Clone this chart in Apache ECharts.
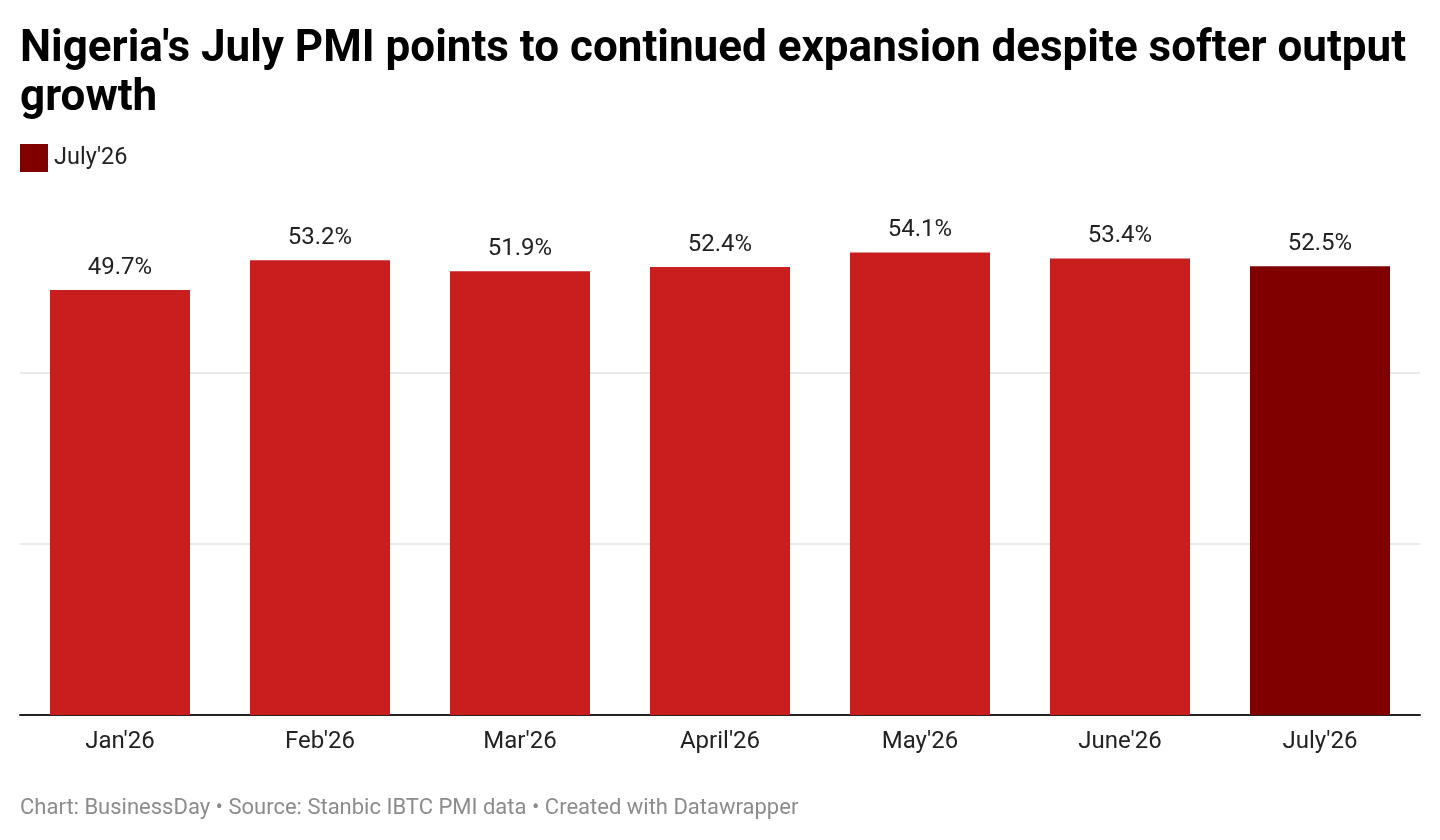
<!DOCTYPE html>
<html>
<head>
<meta charset="utf-8">
<script src="https://cdn.jsdelivr.net/npm/echarts@6/dist/echarts.min.js"></script>
<style>
html,body{margin:0;padding:0;background:#fff;}
#c{width:1440px;height:840px;}
</style>
</head>
<body>
<div id="c"></div>
<script>
const categories = ["Jan'26", "Feb'26", "Mar'26", "April'26", "May'26", "June'26", "July'26"];
const pmiValues = [49.7, 53.2, 51.9, 52.4, 54.1, 53.4, 52.5];
const seriesName = "July'26";
const titleText = "Nigeria's July PMI points to continued expansion despite softer output\ngrowth";
const footerText = "Chart: BusinessDay • Source: Stanbic IBTC PMI data • Created with Datawrapper";

const baseColor = '#c81e1e';
const highlightColor = '#800000';
const font = 'Roboto, "Noto Sans", sans-serif';

const chart = echarts.init(document.getElementById('c'), null, {renderer: 'canvas'});
chart.setOption({
  animation: false,
  backgroundColor: '#fff',
  textStyle: {fontFamily: font},
  title: {
    text: titleText,
    left: 20, top: 25, padding: 0,
    textStyle: {fontFamily: font, fontSize: 44, fontWeight: 'bold', color: '#000', lineHeight: 49}
  },
  legend: {
    left: 20, top: 144, padding: 0,
    itemWidth: 28, itemHeight: 28, itemGap: 10,
    icon: 'rect',
    textStyle: {fontFamily: font, fontSize: 23.5, color: '#222', padding: [3, 0, 0, 1]},
    data: [seriesName]
  },
  grid: {left: 20, right: 20, top: 202, bottom: 125, containLabel: false},
  xAxis: {
    type: 'category',
    data: categories,
    axisLine: {lineStyle: {color: '#222', width: 2}},
    axisTick: {show: false},
    axisLabel: {fontFamily: font, fontSize: 24, color: '#222', margin: 15}
  },
  yAxis: {
    type: 'value',
    min: 0, max: 60, interval: 20,
    axisLabel: {show: false},
    axisLine: {show: false},
    axisTick: {show: false},
    splitLine: {showMaxLine: false, lineStyle: {color: '#e3e3e3', width: 1.5}}
  },
  series: [{
    name: seriesName,
    type: 'bar',
    barCategoryGap: '30%',
    itemStyle: {color: highlightColor},
    data: pmiValues.map((v, i) => i === pmiValues.length - 1 ? v : {value: v, itemStyle: {color: baseColor}}),
    label: {
      show: true, position: 'top', distance: 10,
      fontFamily: font, fontSize: 24, color: '#222',
      formatter: p => p.value.toFixed(1) + '%'
    }
  }],
  graphic: [{
    type: 'text', left: 20, top: 797,
    style: {text: footerText, fontFamily: font, fontSize: 22, fill: '#8c8c8c'}
  }]
});
</script>
</body>
</html>
